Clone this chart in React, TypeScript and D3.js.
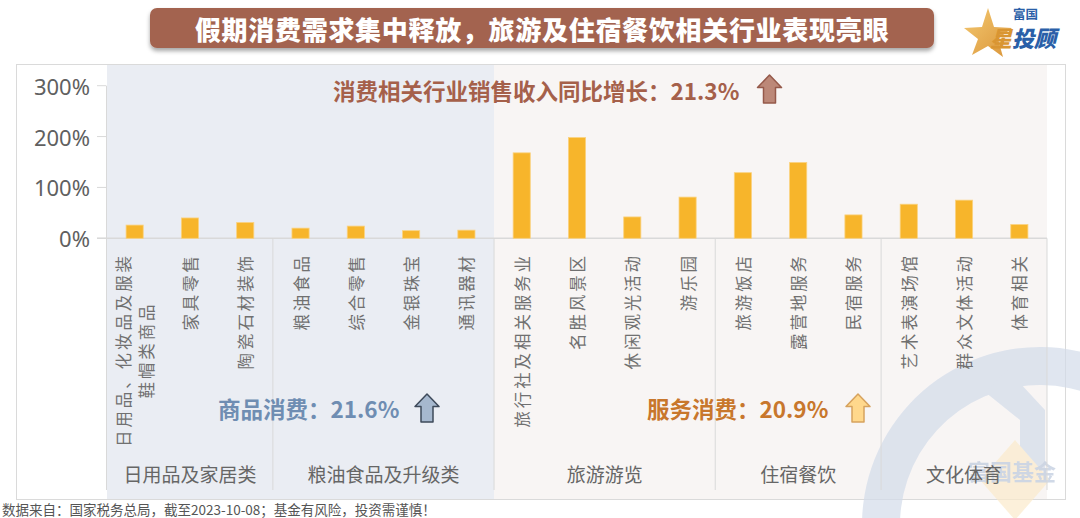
import React from "react";
import * as d3 from "d3";

const categories = [
  "日用品、化妆品及服装|鞋帽类商品",
  "家具零售",
  "陶瓷石材装饰",
  "粮油食品",
  "综合零售",
  "金银珠宝",
  "通讯器材",
  "旅行社及相关服务业",
  "名胜风景区",
  "休闲观光活动",
  "游乐园",
  "旅游饭店",
  "露营地服务",
  "民宿服务",
  "艺术表演场馆",
  "群众文体活动",
  "体育相关",
];
const values = [26, 40, 31, 20, 24, 15, 16, 168, 198, 42, 81, 129, 149, 46, 67, 75, 27];
const groupNames = ["日用品及家居类", "粮油食品及升级类", "旅游游览", "住宿餐饮", "文化体育"];
const groupSizes = [3, 4, 4, 3, 3];
const yTicks = [0, 100, 200, 300];
const titleText = "假期消费需求集中释放，旅游及住宿餐饮相关行业表现亮眼";
const totalNote = "消费相关行业销售收入同比增长：21.3%";
const goodsNote = "商品消费：21.6%";
const serviceNote = "服务消费：20.9%";
const footerText = "数据来自：国家税务总局，截至2023-10-08；基金有风险，投资需谨慎！";

const CJK = '"Noto Sans CJK SC", "Noto Sans", sans-serif';

function UpArrow({ cx, top, w, h, fill, stroke }: any) {
  const hw = w / 2;
  const sw = w * 0.25;
  const head = h * 0.45;
  const pts = [
    [cx, top],
    [cx + hw, top + head],
    [cx + sw, top + head],
    [cx + sw, top + h],
    [cx - sw, top + h],
    [cx - sw, top + head],
    [cx - hw, top + head],
  ];
  return <polygon points={pts.map((p) => p.join(",")).join(" ")} fill={fill} stroke={stroke} strokeWidth={1.5} strokeLinejoin="round" />;
}

export default function App() {
  const left = 107;
  const right = 1047;
  const frameTop = 64;
  const frameBottom = 499;
  const x = d3.scaleBand<string>().domain(categories).range([left, right]).paddingInner(0).paddingOuter(0);
  const y = d3.scaleLinear().domain([0, 300]).range([238.3, 85.7]);
  const bw = x.bandwidth() * 0.31;
  const y0 = y(0);

  const bounds: number[] = [];
  let acc = 0;
  groupSizes.forEach((s) => {
    bounds.push(acc);
    acc += s;
  });
  const groupStart = bounds.map((b) => x(categories[b]) as number);
  const groupEnd = groupSizes.map((s, i) => groupStart[i] + s * x.bandwidth());
  const goodsEnd = groupEnd[1];

  return (
    <svg width={1080} height={518} style={{ position: "absolute", left: 0, top: 0 }} xmlns="http://www.w3.org/2000/svg">
      <defs>
        <filter id="sh" x="-5%" y="-30%" width="110%" height="180%">
          <feDropShadow dx="0" dy="3" stdDeviation="2" floodColor="#000" floodOpacity="0.35" />
        </filter>
        <linearGradient id="starG" x1="0" y1="0" x2="1" y2="1">
          <stop offset="0" stopColor="#F3C66A" />
          <stop offset="1" stopColor="#D88F2E" />
        </linearGradient>
      </defs>
      <rect x={0} y={0} width={1080} height={518} fill="#fff" />

      {/* frame */}
      <rect x={16.5} y={frameTop + 0.5} width={1049} height={frameBottom - frameTop} fill="#fff" stroke="#DADADA" strokeWidth={1} />
      {/* shading */}
      <rect x={left} y={frameTop + 1} width={goodsEnd - left} height={frameBottom - frameTop - 1} fill="#EAEDF3" />
      <rect x={goodsEnd} y={frameTop + 1} width={right - goodsEnd} height={frameBottom - frameTop - 1} fill="#F8F5F4" />

      {/* watermark */}
      <g opacity={0.7}>
        <path
          d={d3.arc()({ innerRadius: 140, outerRadius: 178, startAngle: -Math.PI * 0.66, endAngle: Math.PI * 0.4 }) as string}
          transform="translate(1040,525)"
          fill="#D3DCEA"
        />
        <path d="M985,392 L1008,370 L1045,410 L1045,470 L1020,470 L1020,420 Z" fill="#D3DCEA" />
        <path d="M1015,440 L1050,480 L1015,520 L980,480 Z" fill="#FBEBCB" />
        <text x={1012} y={470} textAnchor="middle" dominantBaseline="central" fontFamily={CJK} fontWeight={700} fontSize={22} fill="#BDC9DD">
          富国基金
        </text>
      </g>

      {/* y axis */}
      <line x1={106.5} x2={106.5} y1={y(300)} y2={frameBottom - 9} stroke="#D9D9D9" />
      {yTicks.map((t) => (
        <g key={t}>
          <line x1={97} x2={106} y1={y(t)} y2={y(t)} stroke="#D9D9D9" />
          <text x={90} y={y(t)} textAnchor="end" dominantBaseline="central" fontFamily='"Noto Sans", sans-serif' fontSize={22} fill="#606060">
            {t}%
          </text>
        </g>
      ))}
      <line x1={97} x2={right} y1={y0} y2={y0} stroke="#D9D9D9" strokeWidth={1.5} />
      {groupEnd.map((gx, i) => (
        <line key={i} x1={gx} x2={gx} y1={y0} y2={frameBottom - 9} stroke="#D9D9D9" />
      ))}

      {/* bars */}
      {categories.map((c, i) => (
        <rect
          key={c}
          x={(x(c) as number) + x.bandwidth() / 2 - bw / 2}
          y={y(values[i])}
          width={bw}
          height={y0 - y(values[i])}
          fill="#F7B52B"
          stroke="#FAD27F"
          strokeWidth={0.8}
        />
      ))}

      {/* category labels (vertical) */}
      {categories.map((c) => {
        const cx = (x(c) as number) + x.bandwidth() / 2;
        const lines = c.split("|");
        const lh = 23;
        return lines.map((ln, j) => {
          const off = (j - (lines.length - 1) / 2) * lh;
          const len = ln.length;
          const topY = lines.length > 1 ? 253 + ((lines[0].length - len) * 19.4) / 2 : 253;
          return (
            <text
              key={c + j}
              transform={`translate(${cx + off},${topY}) rotate(-90)`}
              textAnchor="end"
              dominantBaseline="central"
              fontFamily={CJK}
              fontSize={16.5}
              letterSpacing={2.9}
              fill="#707070"
            >
              {ln}
            </text>
          );
        });
      })}

      {/* group labels */}
      {groupNames.map((g, i) => (
        <text
          key={g}
          x={(groupStart[i] + groupEnd[i]) / 2}
          y={473}
          textAnchor="middle"
          dominantBaseline="central"
          fontFamily={CJK}
          fontSize={19}
          fill="#666"
        >
          {g}
        </text>
      ))}

      {/* annotations */}
      <text x={333} y={90} dominantBaseline="central" fontFamily={CJK} fontWeight={700} fontSize={22.5} fill="#A5604A">
        {totalNote}
      </text>
      <UpArrow cx={769.5} top={75} w={24} h={28} fill="#BC8878" stroke="#95594A" />

      <text x={218} y={408} dominantBaseline="central" fontFamily={CJK} fontWeight={700} fontSize={22.5} fill="#6F8DB2">
        {goodsNote}
      </text>
      <UpArrow cx={427} top={394} w={24} h={28} fill="#A6B8CE" stroke="#3E4A5A" />

      <text x={647} y={408} dominantBaseline="central" fontFamily={CJK} fontWeight={700} fontSize={22.5} fill="#C8772C">
        {serviceNote}
      </text>
      <UpArrow cx={858} top={394} w={24} h={28} fill="#FFD88C" stroke="#D6A25E" />

      {/* title */}
      <rect x={150} y={8} width={784} height={40} rx={7} fill="#A3644F" filter="url(#sh)" />
      <text x={542} y={28.5} textAnchor="middle" dominantBaseline="central" fontFamily={CJK} fontWeight={900} fontSize={26} letterSpacing={0.7} fill="#fff">
        {titleText}
      </text>

      {/* logo */}
      <polygon points="988,8 994,27 1012,28 998,39 1003,57 988,46 972,55 978,39 964,28 982,27" fill="url(#starG)" opacity={0.95} />
      <text x={1013} y={13} dominantBaseline="central" fontFamily={CJK} fontWeight={700} fontSize={12.5} fill="#2A5FA8">
        富国
      </text>
      <text x={990} y={37} dominantBaseline="central" fontFamily={CJK} fontWeight={900} fontSize={22} fontStyle="italic" fill="#D99532">
        星
      </text>
      <text x={1012} y={37} dominantBaseline="central" fontFamily={CJK} fontWeight={900} fontSize={22} fontStyle="italic" fill="#2A5FA8">
        投顾
      </text>

      {/* footer */}
      <text x={2} y={509} dominantBaseline="central" fontFamily={CJK} fontSize={13.5} fill="#555">
        {footerText}
      </text>
    </svg>
  );
}
